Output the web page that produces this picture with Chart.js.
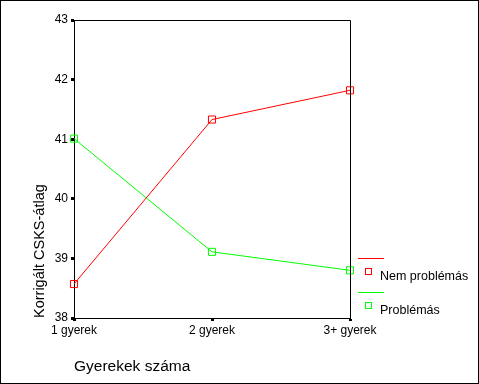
<!DOCTYPE html>
<html>
<head>
<meta charset="utf-8">
<script src="https://cdn.jsdelivr.net/npm/chart.js@4"></script>
<style>
  html, body { margin: 0; padding: 0; background: #fff; }
  #wrap { position: relative; width: 479px; height: 384px; }
</style>
</head>
<body>
<div id="wrap"><canvas id="chart" width="479" height="384"></canvas></div>
<script>
const categories = ['1 gyerek', '2 gyerek', '3+ gyerek'];
const nemProblemas = [38.57, 41.33, 41.82];
const problemas = [41.01, 39.11, 38.80];
const seriesNames = ['Nem problémás', 'Problémás'];
const seriesColors = ['#ff0000', '#00ff00'];

const FONT = 'Arial, "Liberation Sans", sans-serif';

// legend on the right, SPSS style: line above, square + text below
const spssLegend = {
  id: 'spssLegend',
  afterDraw(chart) {
    const ctx = chart.ctx;
    ctx.save();
    const rows = [258, 292];
    seriesNames.forEach((name, i) => {
      const y = rows[i];
      ctx.strokeStyle = seriesColors[i];
      ctx.lineWidth = 1;
      ctx.beginPath();
      ctx.moveTo(358, y + 0.5);
      ctx.lineTo(384, y + 0.5);
      ctx.stroke();
      ctx.strokeRect(365.5, y + 10.5, 6, 6);
      ctx.fillStyle = '#000';
      ctx.font = '12.5px ' + FONT;
      ctx.textBaseline = 'middle';
      ctx.textAlign = 'left';
      ctx.fillText(name, 380, y + 19);
    });
    ctx.restore();
  }
};

const frames = {
  id: 'frames',
  afterDraw(chart) {
    const { ctx, chartArea } = chart;
    ctx.save();
    ctx.strokeStyle = '#000';
    ctx.lineWidth = 1;
    ctx.beginPath();
    ctx.moveTo(Math.round(chartArea.left) + 0.5, Math.round(chartArea.top) + 0.5);
    ctx.lineTo(Math.round(chartArea.right) + 0.5, Math.round(chartArea.top) + 0.5);
    ctx.lineTo(Math.round(chartArea.right) + 0.5, Math.round(chartArea.bottom) + 0.5);
    ctx.stroke();
    ctx.strokeRect(0.5, 0.5, chart.width - 1, chart.height - 1);
    ctx.restore();
  }
};

new Chart(document.getElementById('chart'), {
  type: 'line',
  data: {
    labels: categories,
    datasets: [
      {
        label: seriesNames[0],
        data: nemProblemas,
        borderColor: seriesColors[0],
        borderWidth: 1,
        pointStyle: 'rect',
        pointRadius: 5,
        pointBorderWidth: 1,
        pointBorderColor: seriesColors[0],
        pointBackgroundColor: 'rgba(0,0,0,0)',
        tension: 0,
      },
      {
        label: seriesNames[1],
        data: problemas,
        borderColor: seriesColors[1],
        borderWidth: 1,
        pointStyle: 'rect',
        pointRadius: 5,
        pointBorderWidth: 1,
        pointBorderColor: seriesColors[1],
        pointBackgroundColor: 'rgba(0,0,0,0)',
        tension: 0,
      },
    ],
  },
  options: {
    responsive: false,
    animation: false,
    layout: { padding: { left: 0, top: 20, right: 129, bottom: 0 } },
    plugins: {
      legend: { display: false },
      tooltip: { enabled: false },
    },
    scales: {
      x: {
        type: 'category',
        offset: false,
        afterFit: (scale) => { scale.height = 66; },
        grid: {
          drawOnChartArea: false,
          color: '#000',
          tickLength: 3,
          tickWidth: 3,
        },
        border: { color: '#000', width: 1 },
        ticks: {
          color: '#000',
          font: { family: FONT, size: 12 },
          padding: 2,
          maxRotation: 0,
        },
        title: {
          display: true,
          text: 'Gyerekek száma',
          align: 'start',
          color: '#000',
          font: { family: FONT, size: 15.5 },
          padding: { top: 0, bottom: 8 },
        },
      },
      y: {
        min: 38,
        max: 43,
        afterFit: (scale) => { scale.width = 74; },
        grid: {
          drawOnChartArea: false,
          color: '#000',
          tickLength: 3,
          tickWidth: 3,
        },
        border: { color: '#000', width: 1 },
        ticks: {
          stepSize: 1,
          color: '#000',
          font: { family: FONT, size: 12 },
          padding: 3,
        },
        title: {
          display: true,
          text: 'Korrigált CSKS-átlag',
          align: 'start',
          color: '#000',
          font: { family: FONT, size: 14.5 },
          padding: { top: 31, bottom: 0 },
        },
      },
    },
  },
  plugins: [spssLegend, frames],
});
</script>
</body>
</html>
